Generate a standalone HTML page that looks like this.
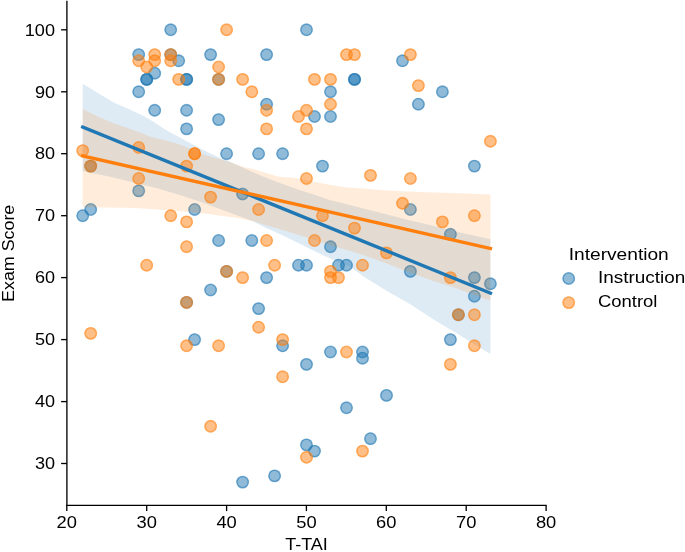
<!DOCTYPE html>
<html><head><meta charset="utf-8"><title>Exam Score vs T-TAI</title>
<style>
html,body{margin:0;padding:0;background:#fff;}
body{width:685px;height:552px;overflow:hidden;font-family:"Liberation Sans",sans-serif;}
svg{display:block;will-change:transform;}
</style></head><body>
<svg width="685" height="552" viewBox="0 0 685 552" font-family="'Liberation Sans', sans-serif" font-size="17px" fill="#000">
<rect width="685" height="552" fill="#fff"/>
<g fill="#1f77b4" stroke="#1f77b4">
<circle cx="170.7" cy="29.8" r="6.45" fill-opacity="0.5" stroke="none"/><circle cx="170.7" cy="29.8" r="5.50" fill="none" stroke-opacity="0.5" stroke-width="1.20"/>
<circle cx="138.7" cy="54.6" r="6.45" fill-opacity="0.5" stroke="none"/><circle cx="138.7" cy="54.6" r="5.50" fill="none" stroke-opacity="0.5" stroke-width="1.20"/>
<circle cx="170.7" cy="54.6" r="6.45" fill-opacity="0.5" stroke="none"/><circle cx="170.7" cy="54.6" r="5.50" fill="none" stroke-opacity="0.5" stroke-width="1.20"/>
<circle cx="210.6" cy="54.6" r="6.45" fill-opacity="0.5" stroke="none"/><circle cx="210.6" cy="54.6" r="5.50" fill="none" stroke-opacity="0.5" stroke-width="1.20"/>
<circle cx="178.7" cy="60.8" r="6.45" fill-opacity="0.5" stroke="none"/><circle cx="178.7" cy="60.8" r="5.50" fill="none" stroke-opacity="0.5" stroke-width="1.20"/>
<circle cx="154.7" cy="73.2" r="6.45" fill-opacity="0.5" stroke="none"/><circle cx="154.7" cy="73.2" r="5.50" fill="none" stroke-opacity="0.5" stroke-width="1.20"/>
<circle cx="146.7" cy="79.4" r="6.45" fill-opacity="0.5" stroke="none"/><circle cx="146.7" cy="79.4" r="5.50" fill="none" stroke-opacity="0.5" stroke-width="1.20"/>
<circle cx="146.7" cy="79.4" r="6.45" fill-opacity="0.5" stroke="none"/><circle cx="146.7" cy="79.4" r="5.50" fill="none" stroke-opacity="0.5" stroke-width="1.20"/>
<circle cx="186.6" cy="79.4" r="6.45" fill-opacity="0.5" stroke="none"/><circle cx="186.6" cy="79.4" r="5.50" fill="none" stroke-opacity="0.5" stroke-width="1.20"/>
<circle cx="186.6" cy="79.4" r="6.45" fill-opacity="0.5" stroke="none"/><circle cx="186.6" cy="79.4" r="5.50" fill="none" stroke-opacity="0.5" stroke-width="1.20"/>
<circle cx="218.6" cy="79.4" r="6.45" fill-opacity="0.5" stroke="none"/><circle cx="218.6" cy="79.4" r="5.50" fill="none" stroke-opacity="0.5" stroke-width="1.20"/>
<circle cx="138.7" cy="91.8" r="6.45" fill-opacity="0.5" stroke="none"/><circle cx="138.7" cy="91.8" r="5.50" fill="none" stroke-opacity="0.5" stroke-width="1.20"/>
<circle cx="154.7" cy="110.3" r="6.45" fill-opacity="0.5" stroke="none"/><circle cx="154.7" cy="110.3" r="5.50" fill="none" stroke-opacity="0.5" stroke-width="1.20"/>
<circle cx="186.6" cy="110.3" r="6.45" fill-opacity="0.5" stroke="none"/><circle cx="186.6" cy="110.3" r="5.50" fill="none" stroke-opacity="0.5" stroke-width="1.20"/>
<circle cx="218.6" cy="119.6" r="6.45" fill-opacity="0.5" stroke="none"/><circle cx="218.6" cy="119.6" r="5.50" fill="none" stroke-opacity="0.5" stroke-width="1.20"/>
<circle cx="186.6" cy="128.9" r="6.45" fill-opacity="0.5" stroke="none"/><circle cx="186.6" cy="128.9" r="5.50" fill="none" stroke-opacity="0.5" stroke-width="1.20"/>
<circle cx="90.7" cy="166.1" r="6.45" fill-opacity="0.5" stroke="none"/><circle cx="90.7" cy="166.1" r="5.50" fill="none" stroke-opacity="0.5" stroke-width="1.20"/>
<circle cx="226.6" cy="153.7" r="6.45" fill-opacity="0.5" stroke="none"/><circle cx="226.6" cy="153.7" r="5.50" fill="none" stroke-opacity="0.5" stroke-width="1.20"/>
<circle cx="138.7" cy="190.9" r="6.45" fill-opacity="0.5" stroke="none"/><circle cx="138.7" cy="190.9" r="5.50" fill="none" stroke-opacity="0.5" stroke-width="1.20"/>
<circle cx="90.7" cy="209.5" r="6.45" fill-opacity="0.5" stroke="none"/><circle cx="90.7" cy="209.5" r="5.50" fill="none" stroke-opacity="0.5" stroke-width="1.20"/>
<circle cx="82.7" cy="215.7" r="6.45" fill-opacity="0.5" stroke="none"/><circle cx="82.7" cy="215.7" r="5.50" fill="none" stroke-opacity="0.5" stroke-width="1.20"/>
<circle cx="194.6" cy="209.5" r="6.45" fill-opacity="0.5" stroke="none"/><circle cx="194.6" cy="209.5" r="5.50" fill="none" stroke-opacity="0.5" stroke-width="1.20"/>
<circle cx="218.6" cy="240.5" r="6.45" fill-opacity="0.5" stroke="none"/><circle cx="218.6" cy="240.5" r="5.50" fill="none" stroke-opacity="0.5" stroke-width="1.20"/>
<circle cx="226.6" cy="271.4" r="6.45" fill-opacity="0.5" stroke="none"/><circle cx="226.6" cy="271.4" r="5.50" fill="none" stroke-opacity="0.5" stroke-width="1.20"/>
<circle cx="210.6" cy="290.0" r="6.45" fill-opacity="0.5" stroke="none"/><circle cx="210.6" cy="290.0" r="5.50" fill="none" stroke-opacity="0.5" stroke-width="1.20"/>
<circle cx="186.6" cy="302.4" r="6.45" fill-opacity="0.5" stroke="none"/><circle cx="186.6" cy="302.4" r="5.50" fill="none" stroke-opacity="0.5" stroke-width="1.20"/>
<circle cx="194.6" cy="339.6" r="6.45" fill-opacity="0.5" stroke="none"/><circle cx="194.6" cy="339.6" r="5.50" fill="none" stroke-opacity="0.5" stroke-width="1.20"/>
<circle cx="306.5" cy="29.8" r="6.45" fill-opacity="0.5" stroke="none"/><circle cx="306.5" cy="29.8" r="5.50" fill="none" stroke-opacity="0.5" stroke-width="1.20"/>
<circle cx="266.6" cy="54.6" r="6.45" fill-opacity="0.5" stroke="none"/><circle cx="266.6" cy="54.6" r="5.50" fill="none" stroke-opacity="0.5" stroke-width="1.20"/>
<circle cx="402.5" cy="60.8" r="6.45" fill-opacity="0.5" stroke="none"/><circle cx="402.5" cy="60.8" r="5.50" fill="none" stroke-opacity="0.5" stroke-width="1.20"/>
<circle cx="354.5" cy="79.4" r="6.45" fill-opacity="0.5" stroke="none"/><circle cx="354.5" cy="79.4" r="5.50" fill="none" stroke-opacity="0.5" stroke-width="1.20"/>
<circle cx="354.5" cy="79.4" r="6.45" fill-opacity="0.5" stroke="none"/><circle cx="354.5" cy="79.4" r="5.50" fill="none" stroke-opacity="0.5" stroke-width="1.20"/>
<circle cx="330.5" cy="91.8" r="6.45" fill-opacity="0.5" stroke="none"/><circle cx="330.5" cy="91.8" r="5.50" fill="none" stroke-opacity="0.5" stroke-width="1.20"/>
<circle cx="266.6" cy="104.2" r="6.45" fill-opacity="0.5" stroke="none"/><circle cx="266.6" cy="104.2" r="5.50" fill="none" stroke-opacity="0.5" stroke-width="1.20"/>
<circle cx="314.5" cy="116.5" r="6.45" fill-opacity="0.5" stroke="none"/><circle cx="314.5" cy="116.5" r="5.50" fill="none" stroke-opacity="0.5" stroke-width="1.20"/>
<circle cx="330.5" cy="116.5" r="6.45" fill-opacity="0.5" stroke="none"/><circle cx="330.5" cy="116.5" r="5.50" fill="none" stroke-opacity="0.5" stroke-width="1.20"/>
<circle cx="258.6" cy="153.7" r="6.45" fill-opacity="0.5" stroke="none"/><circle cx="258.6" cy="153.7" r="5.50" fill="none" stroke-opacity="0.5" stroke-width="1.20"/>
<circle cx="282.6" cy="153.7" r="6.45" fill-opacity="0.5" stroke="none"/><circle cx="282.6" cy="153.7" r="5.50" fill="none" stroke-opacity="0.5" stroke-width="1.20"/>
<circle cx="322.5" cy="166.1" r="6.45" fill-opacity="0.5" stroke="none"/><circle cx="322.5" cy="166.1" r="5.50" fill="none" stroke-opacity="0.5" stroke-width="1.20"/>
<circle cx="242.6" cy="194.0" r="6.45" fill-opacity="0.5" stroke="none"/><circle cx="242.6" cy="194.0" r="5.50" fill="none" stroke-opacity="0.5" stroke-width="1.20"/>
<circle cx="251.8" cy="240.5" r="6.45" fill-opacity="0.5" stroke="none"/><circle cx="251.8" cy="240.5" r="5.50" fill="none" stroke-opacity="0.5" stroke-width="1.20"/>
<circle cx="330.5" cy="246.7" r="6.45" fill-opacity="0.5" stroke="none"/><circle cx="330.5" cy="246.7" r="5.50" fill="none" stroke-opacity="0.5" stroke-width="1.20"/>
<circle cx="298.5" cy="265.2" r="6.45" fill-opacity="0.5" stroke="none"/><circle cx="298.5" cy="265.2" r="5.50" fill="none" stroke-opacity="0.5" stroke-width="1.20"/>
<circle cx="306.5" cy="265.2" r="6.45" fill-opacity="0.5" stroke="none"/><circle cx="306.5" cy="265.2" r="5.50" fill="none" stroke-opacity="0.5" stroke-width="1.20"/>
<circle cx="338.5" cy="265.2" r="6.45" fill-opacity="0.5" stroke="none"/><circle cx="338.5" cy="265.2" r="5.50" fill="none" stroke-opacity="0.5" stroke-width="1.20"/>
<circle cx="346.5" cy="265.2" r="6.45" fill-opacity="0.5" stroke="none"/><circle cx="346.5" cy="265.2" r="5.50" fill="none" stroke-opacity="0.5" stroke-width="1.20"/>
<circle cx="266.6" cy="277.6" r="6.45" fill-opacity="0.5" stroke="none"/><circle cx="266.6" cy="277.6" r="5.50" fill="none" stroke-opacity="0.5" stroke-width="1.20"/>
<circle cx="258.6" cy="308.6" r="6.45" fill-opacity="0.5" stroke="none"/><circle cx="258.6" cy="308.6" r="5.50" fill="none" stroke-opacity="0.5" stroke-width="1.20"/>
<circle cx="282.6" cy="345.8" r="6.45" fill-opacity="0.5" stroke="none"/><circle cx="282.6" cy="345.8" r="5.50" fill="none" stroke-opacity="0.5" stroke-width="1.20"/>
<circle cx="330.5" cy="352.0" r="6.45" fill-opacity="0.5" stroke="none"/><circle cx="330.5" cy="352.0" r="5.50" fill="none" stroke-opacity="0.5" stroke-width="1.20"/>
<circle cx="362.5" cy="352.0" r="6.45" fill-opacity="0.5" stroke="none"/><circle cx="362.5" cy="352.0" r="5.50" fill="none" stroke-opacity="0.5" stroke-width="1.20"/>
<circle cx="362.5" cy="358.2" r="6.45" fill-opacity="0.5" stroke="none"/><circle cx="362.5" cy="358.2" r="5.50" fill="none" stroke-opacity="0.5" stroke-width="1.20"/>
<circle cx="306.5" cy="364.4" r="6.45" fill-opacity="0.5" stroke="none"/><circle cx="306.5" cy="364.4" r="5.50" fill="none" stroke-opacity="0.5" stroke-width="1.20"/>
<circle cx="386.5" cy="395.4" r="6.45" fill-opacity="0.5" stroke="none"/><circle cx="386.5" cy="395.4" r="5.50" fill="none" stroke-opacity="0.5" stroke-width="1.20"/>
<circle cx="346.5" cy="407.8" r="6.45" fill-opacity="0.5" stroke="none"/><circle cx="346.5" cy="407.8" r="5.50" fill="none" stroke-opacity="0.5" stroke-width="1.20"/>
<circle cx="370.5" cy="438.7" r="6.45" fill-opacity="0.5" stroke="none"/><circle cx="370.5" cy="438.7" r="5.50" fill="none" stroke-opacity="0.5" stroke-width="1.20"/>
<circle cx="306.5" cy="444.9" r="6.45" fill-opacity="0.5" stroke="none"/><circle cx="306.5" cy="444.9" r="5.50" fill="none" stroke-opacity="0.5" stroke-width="1.20"/>
<circle cx="314.5" cy="451.1" r="6.45" fill-opacity="0.5" stroke="none"/><circle cx="314.5" cy="451.1" r="5.50" fill="none" stroke-opacity="0.5" stroke-width="1.20"/>
<circle cx="274.6" cy="475.9" r="6.45" fill-opacity="0.5" stroke="none"/><circle cx="274.6" cy="475.9" r="5.50" fill="none" stroke-opacity="0.5" stroke-width="1.20"/>
<circle cx="242.6" cy="482.1" r="6.45" fill-opacity="0.5" stroke="none"/><circle cx="242.6" cy="482.1" r="5.50" fill="none" stroke-opacity="0.5" stroke-width="1.20"/>
<circle cx="442.4" cy="91.8" r="6.45" fill-opacity="0.5" stroke="none"/><circle cx="442.4" cy="91.8" r="5.50" fill="none" stroke-opacity="0.5" stroke-width="1.20"/>
<circle cx="418.4" cy="104.2" r="6.45" fill-opacity="0.5" stroke="none"/><circle cx="418.4" cy="104.2" r="5.50" fill="none" stroke-opacity="0.5" stroke-width="1.20"/>
<circle cx="474.4" cy="166.1" r="6.45" fill-opacity="0.5" stroke="none"/><circle cx="474.4" cy="166.1" r="5.50" fill="none" stroke-opacity="0.5" stroke-width="1.20"/>
<circle cx="410.4" cy="209.5" r="6.45" fill-opacity="0.5" stroke="none"/><circle cx="410.4" cy="209.5" r="5.50" fill="none" stroke-opacity="0.5" stroke-width="1.20"/>
<circle cx="450.4" cy="234.3" r="6.45" fill-opacity="0.5" stroke="none"/><circle cx="450.4" cy="234.3" r="5.50" fill="none" stroke-opacity="0.5" stroke-width="1.20"/>
<circle cx="410.4" cy="271.4" r="6.45" fill-opacity="0.5" stroke="none"/><circle cx="410.4" cy="271.4" r="5.50" fill="none" stroke-opacity="0.5" stroke-width="1.20"/>
<circle cx="474.4" cy="277.6" r="6.45" fill-opacity="0.5" stroke="none"/><circle cx="474.4" cy="277.6" r="5.50" fill="none" stroke-opacity="0.5" stroke-width="1.20"/>
<circle cx="490.4" cy="283.8" r="6.45" fill-opacity="0.5" stroke="none"/><circle cx="490.4" cy="283.8" r="5.50" fill="none" stroke-opacity="0.5" stroke-width="1.20"/>
<circle cx="474.4" cy="296.2" r="6.45" fill-opacity="0.5" stroke="none"/><circle cx="474.4" cy="296.2" r="5.50" fill="none" stroke-opacity="0.5" stroke-width="1.20"/>
<circle cx="458.4" cy="314.8" r="6.45" fill-opacity="0.5" stroke="none"/><circle cx="458.4" cy="314.8" r="5.50" fill="none" stroke-opacity="0.5" stroke-width="1.20"/>
<circle cx="450.4" cy="339.6" r="6.45" fill-opacity="0.5" stroke="none"/><circle cx="450.4" cy="339.6" r="5.50" fill="none" stroke-opacity="0.5" stroke-width="1.20"/>
</g>
<polygon points="82.7,83.8 99.5,93.9 114.7,103.0 126.5,107.9 141.6,114.9 153.1,121.5 165.5,129.8 180.7,138.0 197.0,146.7 210.9,153.7 222.6,159.0 229.0,161.2 243.6,168.0 255.2,173.3 266.9,178.0 278.6,182.6 290.3,186.7 300.1,190.3 315.3,195.0 330.5,200.2 346.9,204.3 363.3,208.4 380.1,212.7 406.5,219.4 432.8,225.7 459.0,232.2 474.7,235.7 490.4,239.2 490.4,353.9 480.3,347.9 457.0,333.5 433.6,319.4 410.3,304.3 386.9,290.9 363.5,276.4 350.2,266.8 335.3,260.7 317.8,252.8 300.3,244.1 282.8,235.6 265.2,227.4 253.0,221.3 236.2,215.0 225.7,211.2 204.7,203.3 181.3,195.6 158.0,188.6 134.6,182.7 111.3,176.9 82.7,171.0" fill="#1f77b4" fill-opacity="0.15"/>
<g fill="#ff7f0e" stroke="#ff7f0e">
<circle cx="226.6" cy="29.8" r="6.45" fill-opacity="0.5" stroke="none"/><circle cx="226.6" cy="29.8" r="5.50" fill="none" stroke-opacity="0.5" stroke-width="1.20"/>
<circle cx="154.7" cy="54.6" r="6.45" fill-opacity="0.5" stroke="none"/><circle cx="154.7" cy="54.6" r="5.50" fill="none" stroke-opacity="0.5" stroke-width="1.20"/>
<circle cx="170.7" cy="54.6" r="6.45" fill-opacity="0.5" stroke="none"/><circle cx="170.7" cy="54.6" r="5.50" fill="none" stroke-opacity="0.5" stroke-width="1.20"/>
<circle cx="138.7" cy="60.8" r="6.45" fill-opacity="0.5" stroke="none"/><circle cx="138.7" cy="60.8" r="5.50" fill="none" stroke-opacity="0.5" stroke-width="1.20"/>
<circle cx="154.7" cy="60.8" r="6.45" fill-opacity="0.5" stroke="none"/><circle cx="154.7" cy="60.8" r="5.50" fill="none" stroke-opacity="0.5" stroke-width="1.20"/>
<circle cx="170.7" cy="60.8" r="6.45" fill-opacity="0.5" stroke="none"/><circle cx="170.7" cy="60.8" r="5.50" fill="none" stroke-opacity="0.5" stroke-width="1.20"/>
<circle cx="146.7" cy="67.0" r="6.45" fill-opacity="0.5" stroke="none"/><circle cx="146.7" cy="67.0" r="5.50" fill="none" stroke-opacity="0.5" stroke-width="1.20"/>
<circle cx="218.6" cy="67.0" r="6.45" fill-opacity="0.5" stroke="none"/><circle cx="218.6" cy="67.0" r="5.50" fill="none" stroke-opacity="0.5" stroke-width="1.20"/>
<circle cx="178.7" cy="79.4" r="6.45" fill-opacity="0.5" stroke="none"/><circle cx="178.7" cy="79.4" r="5.50" fill="none" stroke-opacity="0.5" stroke-width="1.20"/>
<circle cx="218.6" cy="79.4" r="6.45" fill-opacity="0.5" stroke="none"/><circle cx="218.6" cy="79.4" r="5.50" fill="none" stroke-opacity="0.5" stroke-width="1.20"/>
<circle cx="82.7" cy="150.6" r="6.45" fill-opacity="0.5" stroke="none"/><circle cx="82.7" cy="150.6" r="5.50" fill="none" stroke-opacity="0.5" stroke-width="1.20"/>
<circle cx="90.7" cy="166.1" r="6.45" fill-opacity="0.5" stroke="none"/><circle cx="90.7" cy="166.1" r="5.50" fill="none" stroke-opacity="0.5" stroke-width="1.20"/>
<circle cx="138.7" cy="147.5" r="6.45" fill-opacity="0.5" stroke="none"/><circle cx="138.7" cy="147.5" r="5.50" fill="none" stroke-opacity="0.5" stroke-width="1.20"/>
<circle cx="194.6" cy="153.7" r="6.45" fill-opacity="0.5" stroke="none"/><circle cx="194.6" cy="153.7" r="5.50" fill="none" stroke-opacity="0.5" stroke-width="1.20"/>
<circle cx="194.6" cy="153.7" r="6.45" fill-opacity="0.5" stroke="none"/><circle cx="194.6" cy="153.7" r="5.50" fill="none" stroke-opacity="0.5" stroke-width="1.20"/>
<circle cx="186.6" cy="166.1" r="6.45" fill-opacity="0.5" stroke="none"/><circle cx="186.6" cy="166.1" r="5.50" fill="none" stroke-opacity="0.5" stroke-width="1.20"/>
<circle cx="138.7" cy="178.5" r="6.45" fill-opacity="0.5" stroke="none"/><circle cx="138.7" cy="178.5" r="5.50" fill="none" stroke-opacity="0.5" stroke-width="1.20"/>
<circle cx="210.6" cy="197.1" r="6.45" fill-opacity="0.5" stroke="none"/><circle cx="210.6" cy="197.1" r="5.50" fill="none" stroke-opacity="0.5" stroke-width="1.20"/>
<circle cx="170.7" cy="215.7" r="6.45" fill-opacity="0.5" stroke="none"/><circle cx="170.7" cy="215.7" r="5.50" fill="none" stroke-opacity="0.5" stroke-width="1.20"/>
<circle cx="186.6" cy="221.9" r="6.45" fill-opacity="0.5" stroke="none"/><circle cx="186.6" cy="221.9" r="5.50" fill="none" stroke-opacity="0.5" stroke-width="1.20"/>
<circle cx="186.6" cy="246.7" r="6.45" fill-opacity="0.5" stroke="none"/><circle cx="186.6" cy="246.7" r="5.50" fill="none" stroke-opacity="0.5" stroke-width="1.20"/>
<circle cx="146.7" cy="265.2" r="6.45" fill-opacity="0.5" stroke="none"/><circle cx="146.7" cy="265.2" r="5.50" fill="none" stroke-opacity="0.5" stroke-width="1.20"/>
<circle cx="226.6" cy="271.4" r="6.45" fill-opacity="0.5" stroke="none"/><circle cx="226.6" cy="271.4" r="5.50" fill="none" stroke-opacity="0.5" stroke-width="1.20"/>
<circle cx="186.6" cy="302.4" r="6.45" fill-opacity="0.5" stroke="none"/><circle cx="186.6" cy="302.4" r="5.50" fill="none" stroke-opacity="0.5" stroke-width="1.20"/>
<circle cx="90.7" cy="333.4" r="6.45" fill-opacity="0.5" stroke="none"/><circle cx="90.7" cy="333.4" r="5.50" fill="none" stroke-opacity="0.5" stroke-width="1.20"/>
<circle cx="186.6" cy="345.8" r="6.45" fill-opacity="0.5" stroke="none"/><circle cx="186.6" cy="345.8" r="5.50" fill="none" stroke-opacity="0.5" stroke-width="1.20"/>
<circle cx="218.6" cy="345.8" r="6.45" fill-opacity="0.5" stroke="none"/><circle cx="218.6" cy="345.8" r="5.50" fill="none" stroke-opacity="0.5" stroke-width="1.20"/>
<circle cx="210.6" cy="426.3" r="6.45" fill-opacity="0.5" stroke="none"/><circle cx="210.6" cy="426.3" r="5.50" fill="none" stroke-opacity="0.5" stroke-width="1.20"/>
<circle cx="346.5" cy="54.6" r="6.45" fill-opacity="0.5" stroke="none"/><circle cx="346.5" cy="54.6" r="5.50" fill="none" stroke-opacity="0.5" stroke-width="1.20"/>
<circle cx="354.5" cy="54.6" r="6.45" fill-opacity="0.5" stroke="none"/><circle cx="354.5" cy="54.6" r="5.50" fill="none" stroke-opacity="0.5" stroke-width="1.20"/>
<circle cx="242.6" cy="79.4" r="6.45" fill-opacity="0.5" stroke="none"/><circle cx="242.6" cy="79.4" r="5.50" fill="none" stroke-opacity="0.5" stroke-width="1.20"/>
<circle cx="314.5" cy="79.4" r="6.45" fill-opacity="0.5" stroke="none"/><circle cx="314.5" cy="79.4" r="5.50" fill="none" stroke-opacity="0.5" stroke-width="1.20"/>
<circle cx="330.5" cy="79.4" r="6.45" fill-opacity="0.5" stroke="none"/><circle cx="330.5" cy="79.4" r="5.50" fill="none" stroke-opacity="0.5" stroke-width="1.20"/>
<circle cx="251.8" cy="91.8" r="6.45" fill-opacity="0.5" stroke="none"/><circle cx="251.8" cy="91.8" r="5.50" fill="none" stroke-opacity="0.5" stroke-width="1.20"/>
<circle cx="330.5" cy="104.2" r="6.45" fill-opacity="0.5" stroke="none"/><circle cx="330.5" cy="104.2" r="5.50" fill="none" stroke-opacity="0.5" stroke-width="1.20"/>
<circle cx="266.6" cy="110.3" r="6.45" fill-opacity="0.5" stroke="none"/><circle cx="266.6" cy="110.3" r="5.50" fill="none" stroke-opacity="0.5" stroke-width="1.20"/>
<circle cx="306.5" cy="110.3" r="6.45" fill-opacity="0.5" stroke="none"/><circle cx="306.5" cy="110.3" r="5.50" fill="none" stroke-opacity="0.5" stroke-width="1.20"/>
<circle cx="298.5" cy="116.5" r="6.45" fill-opacity="0.5" stroke="none"/><circle cx="298.5" cy="116.5" r="5.50" fill="none" stroke-opacity="0.5" stroke-width="1.20"/>
<circle cx="266.6" cy="128.9" r="6.45" fill-opacity="0.5" stroke="none"/><circle cx="266.6" cy="128.9" r="5.50" fill="none" stroke-opacity="0.5" stroke-width="1.20"/>
<circle cx="306.5" cy="128.9" r="6.45" fill-opacity="0.5" stroke="none"/><circle cx="306.5" cy="128.9" r="5.50" fill="none" stroke-opacity="0.5" stroke-width="1.20"/>
<circle cx="306.5" cy="178.5" r="6.45" fill-opacity="0.5" stroke="none"/><circle cx="306.5" cy="178.5" r="5.50" fill="none" stroke-opacity="0.5" stroke-width="1.20"/>
<circle cx="370.5" cy="175.4" r="6.45" fill-opacity="0.5" stroke="none"/><circle cx="370.5" cy="175.4" r="5.50" fill="none" stroke-opacity="0.5" stroke-width="1.20"/>
<circle cx="410.4" cy="178.5" r="6.45" fill-opacity="0.5" stroke="none"/><circle cx="410.4" cy="178.5" r="5.50" fill="none" stroke-opacity="0.5" stroke-width="1.20"/>
<circle cx="402.5" cy="203.3" r="6.45" fill-opacity="0.5" stroke="none"/><circle cx="402.5" cy="203.3" r="5.50" fill="none" stroke-opacity="0.5" stroke-width="1.20"/>
<circle cx="258.6" cy="209.5" r="6.45" fill-opacity="0.5" stroke="none"/><circle cx="258.6" cy="209.5" r="5.50" fill="none" stroke-opacity="0.5" stroke-width="1.20"/>
<circle cx="322.5" cy="215.7" r="6.45" fill-opacity="0.5" stroke="none"/><circle cx="322.5" cy="215.7" r="5.50" fill="none" stroke-opacity="0.5" stroke-width="1.20"/>
<circle cx="354.5" cy="228.1" r="6.45" fill-opacity="0.5" stroke="none"/><circle cx="354.5" cy="228.1" r="5.50" fill="none" stroke-opacity="0.5" stroke-width="1.20"/>
<circle cx="266.6" cy="240.5" r="6.45" fill-opacity="0.5" stroke="none"/><circle cx="266.6" cy="240.5" r="5.50" fill="none" stroke-opacity="0.5" stroke-width="1.20"/>
<circle cx="314.5" cy="240.5" r="6.45" fill-opacity="0.5" stroke="none"/><circle cx="314.5" cy="240.5" r="5.50" fill="none" stroke-opacity="0.5" stroke-width="1.20"/>
<circle cx="386.5" cy="252.9" r="6.45" fill-opacity="0.5" stroke="none"/><circle cx="386.5" cy="252.9" r="5.50" fill="none" stroke-opacity="0.5" stroke-width="1.20"/>
<circle cx="274.6" cy="265.2" r="6.45" fill-opacity="0.5" stroke="none"/><circle cx="274.6" cy="265.2" r="5.50" fill="none" stroke-opacity="0.5" stroke-width="1.20"/>
<circle cx="362.5" cy="265.2" r="6.45" fill-opacity="0.5" stroke="none"/><circle cx="362.5" cy="265.2" r="5.50" fill="none" stroke-opacity="0.5" stroke-width="1.20"/>
<circle cx="330.5" cy="271.4" r="6.45" fill-opacity="0.5" stroke="none"/><circle cx="330.5" cy="271.4" r="5.50" fill="none" stroke-opacity="0.5" stroke-width="1.20"/>
<circle cx="242.6" cy="277.6" r="6.45" fill-opacity="0.5" stroke="none"/><circle cx="242.6" cy="277.6" r="5.50" fill="none" stroke-opacity="0.5" stroke-width="1.20"/>
<circle cx="330.5" cy="277.6" r="6.45" fill-opacity="0.5" stroke="none"/><circle cx="330.5" cy="277.6" r="5.50" fill="none" stroke-opacity="0.5" stroke-width="1.20"/>
<circle cx="338.5" cy="277.6" r="6.45" fill-opacity="0.5" stroke="none"/><circle cx="338.5" cy="277.6" r="5.50" fill="none" stroke-opacity="0.5" stroke-width="1.20"/>
<circle cx="258.6" cy="327.2" r="6.45" fill-opacity="0.5" stroke="none"/><circle cx="258.6" cy="327.2" r="5.50" fill="none" stroke-opacity="0.5" stroke-width="1.20"/>
<circle cx="282.6" cy="339.6" r="6.45" fill-opacity="0.5" stroke="none"/><circle cx="282.6" cy="339.6" r="5.50" fill="none" stroke-opacity="0.5" stroke-width="1.20"/>
<circle cx="346.5" cy="352.0" r="6.45" fill-opacity="0.5" stroke="none"/><circle cx="346.5" cy="352.0" r="5.50" fill="none" stroke-opacity="0.5" stroke-width="1.20"/>
<circle cx="282.6" cy="376.8" r="6.45" fill-opacity="0.5" stroke="none"/><circle cx="282.6" cy="376.8" r="5.50" fill="none" stroke-opacity="0.5" stroke-width="1.20"/>
<circle cx="362.5" cy="451.1" r="6.45" fill-opacity="0.5" stroke="none"/><circle cx="362.5" cy="451.1" r="5.50" fill="none" stroke-opacity="0.5" stroke-width="1.20"/>
<circle cx="306.5" cy="457.3" r="6.45" fill-opacity="0.5" stroke="none"/><circle cx="306.5" cy="457.3" r="5.50" fill="none" stroke-opacity="0.5" stroke-width="1.20"/>
<circle cx="410.4" cy="54.6" r="6.45" fill-opacity="0.5" stroke="none"/><circle cx="410.4" cy="54.6" r="5.50" fill="none" stroke-opacity="0.5" stroke-width="1.20"/>
<circle cx="418.4" cy="85.6" r="6.45" fill-opacity="0.5" stroke="none"/><circle cx="418.4" cy="85.6" r="5.50" fill="none" stroke-opacity="0.5" stroke-width="1.20"/>
<circle cx="490.4" cy="141.3" r="6.45" fill-opacity="0.5" stroke="none"/><circle cx="490.4" cy="141.3" r="5.50" fill="none" stroke-opacity="0.5" stroke-width="1.20"/>
<circle cx="474.4" cy="215.7" r="6.45" fill-opacity="0.5" stroke="none"/><circle cx="474.4" cy="215.7" r="5.50" fill="none" stroke-opacity="0.5" stroke-width="1.20"/>
<circle cx="442.4" cy="221.9" r="6.45" fill-opacity="0.5" stroke="none"/><circle cx="442.4" cy="221.9" r="5.50" fill="none" stroke-opacity="0.5" stroke-width="1.20"/>
<circle cx="450.4" cy="277.6" r="6.45" fill-opacity="0.5" stroke="none"/><circle cx="450.4" cy="277.6" r="5.50" fill="none" stroke-opacity="0.5" stroke-width="1.20"/>
<circle cx="458.4" cy="314.8" r="6.45" fill-opacity="0.5" stroke="none"/><circle cx="458.4" cy="314.8" r="5.50" fill="none" stroke-opacity="0.5" stroke-width="1.20"/>
<circle cx="474.4" cy="314.8" r="6.45" fill-opacity="0.5" stroke="none"/><circle cx="474.4" cy="314.8" r="5.50" fill="none" stroke-opacity="0.5" stroke-width="1.20"/>
<circle cx="474.4" cy="345.8" r="6.45" fill-opacity="0.5" stroke="none"/><circle cx="474.4" cy="345.8" r="5.50" fill="none" stroke-opacity="0.5" stroke-width="1.20"/>
<circle cx="450.4" cy="364.4" r="6.45" fill-opacity="0.5" stroke="none"/><circle cx="450.4" cy="364.4" r="5.50" fill="none" stroke-opacity="0.5" stroke-width="1.20"/>
</g>
<polygon points="82.7,109.1 99.5,117.3 114.7,123.7 126.5,127.8 141.6,133.1 150.2,136.8 165.5,140.3 180.7,145.0 188.7,147.9 202.8,154.3 214.4,157.8 220.2,159.3 231.0,162.4 243.6,167.1 255.2,169.4 266.9,173.3 278.6,176.8 290.3,177.6 300.1,178.8 315.3,182.1 330.5,185.0 346.9,187.4 363.3,188.5 380.1,189.9 406.5,191.4 432.8,192.4 459.0,193.3 490.4,194.5 490.4,300.7 480.3,297.2 457.0,288.6 433.6,280.9 410.3,272.7 386.9,263.4 363.5,255.3 350.2,251.1 335.3,246.7 317.8,240.9 300.3,235.6 282.8,230.0 265.2,225.1 253.0,221.3 236.2,217.8 230.2,216.9 204.7,213.6 181.3,211.2 158.0,209.6 134.6,207.9 111.3,207.5 82.7,207.2" fill="#ff7f0e" fill-opacity="0.15"/>
<line x1="82.7" y1="127.1" x2="490.4" y2="293.1" stroke="#1f77b4" stroke-width="3.4" stroke-linecap="square"/>
<line x1="82.7" y1="155.9" x2="490.4" y2="248.5" stroke="#ff7f0e" stroke-width="3.4" stroke-linecap="square"/>
<g stroke="#000" stroke-width="1.33"><line x1="66.9" y1="0.7" x2="66.9" y2="506.0"/><line x1="66.2" y1="505.3" x2="546.7" y2="505.3"/><line x1="66.8" y1="505.3" x2="66.8" y2="511.1"/><line x1="146.7" y1="505.3" x2="146.7" y2="511.1"/><line x1="226.6" y1="505.3" x2="226.6" y2="511.1"/><line x1="306.4" y1="505.3" x2="306.4" y2="511.1"/><line x1="386.3" y1="505.3" x2="386.3" y2="511.1"/><line x1="466.2" y1="505.3" x2="466.2" y2="511.1"/><line x1="546.1" y1="505.3" x2="546.1" y2="511.1"/><line x1="61.1" y1="463.5" x2="66.9" y2="463.5"/><line x1="61.1" y1="401.6" x2="66.9" y2="401.6"/><line x1="61.1" y1="339.6" x2="66.9" y2="339.6"/><line x1="61.1" y1="277.6" x2="66.9" y2="277.6"/><line x1="61.1" y1="215.7" x2="66.9" y2="215.7"/><line x1="61.1" y1="153.7" x2="66.9" y2="153.7"/><line x1="61.1" y1="91.8" x2="66.9" y2="91.8"/><line x1="61.1" y1="29.8" x2="66.9" y2="29.8"/></g>
<text x="66.8" y="528.0" text-anchor="middle" textLength="20.4" lengthAdjust="spacingAndGlyphs" >20</text>
<text x="146.7" y="528.0" text-anchor="middle" textLength="20.4" lengthAdjust="spacingAndGlyphs" >30</text>
<text x="226.6" y="528.0" text-anchor="middle" textLength="20.4" lengthAdjust="spacingAndGlyphs" >40</text>
<text x="306.4" y="528.0" text-anchor="middle" textLength="20.4" lengthAdjust="spacingAndGlyphs" >50</text>
<text x="386.3" y="528.0" text-anchor="middle" textLength="20.4" lengthAdjust="spacingAndGlyphs" >60</text>
<text x="466.2" y="528.0" text-anchor="middle" textLength="20.4" lengthAdjust="spacingAndGlyphs" >70</text>
<text x="546.1" y="528.0" text-anchor="middle" textLength="20.4" lengthAdjust="spacingAndGlyphs" >80</text>
<text x="55.0" y="469.2" text-anchor="end" textLength="20.1" lengthAdjust="spacingAndGlyphs" >30</text>
<text x="55.0" y="407.3" text-anchor="end" textLength="20.1" lengthAdjust="spacingAndGlyphs" >40</text>
<text x="55.0" y="345.3" text-anchor="end" textLength="20.1" lengthAdjust="spacingAndGlyphs" >50</text>
<text x="55.0" y="283.3" text-anchor="end" textLength="20.1" lengthAdjust="spacingAndGlyphs" >60</text>
<text x="55.0" y="221.4" text-anchor="end" textLength="20.1" lengthAdjust="spacingAndGlyphs" >70</text>
<text x="55.0" y="159.4" text-anchor="end" textLength="20.1" lengthAdjust="spacingAndGlyphs" >80</text>
<text x="55.0" y="97.5" text-anchor="end" textLength="20.1" lengthAdjust="spacingAndGlyphs" >90</text>
<text x="55.0" y="35.5" text-anchor="end" textLength="30.2" lengthAdjust="spacingAndGlyphs" >100</text>
<text x="306.5" y="549.6" text-anchor="middle" textLength="42.7" lengthAdjust="spacingAndGlyphs" >T-TAI</text>
<g transform="translate(13.6,253.3) rotate(-90)"><text x="0.0" y="0.0" text-anchor="middle" textLength="97.2" lengthAdjust="spacingAndGlyphs" >Exam Score</text></g>
<text x="568.7" y="259.7" text-anchor="start" textLength="100.1" lengthAdjust="spacingAndGlyphs" >Intervention</text>
<text x="597.9" y="282.6" text-anchor="start" textLength="87.4" lengthAdjust="spacingAndGlyphs" >Instruction</text>
<text x="597.9" y="306.6" text-anchor="start" textLength="59.6" lengthAdjust="spacingAndGlyphs" >Control</text>
<g fill="#1f77b4" stroke="#1f77b4"><circle cx="568.7" cy="278.5" r="6.45" fill-opacity="0.5" stroke="none"/><circle cx="568.7" cy="278.5" r="5.50" fill="none" stroke-opacity="0.5" stroke-width="1.20"/></g>
<g fill="#ff7f0e" stroke="#ff7f0e"><circle cx="568.7" cy="302.6" r="6.45" fill-opacity="0.5" stroke="none"/><circle cx="568.7" cy="302.6" r="5.50" fill="none" stroke-opacity="0.5" stroke-width="1.20"/></g>
</svg>
</body></html>
